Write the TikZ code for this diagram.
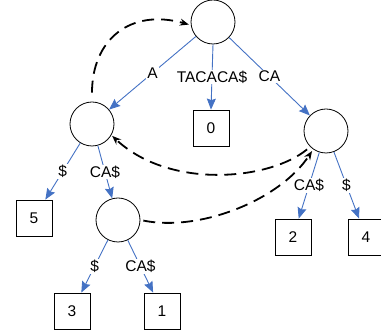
\documentclass[tikz,border=0pt]{standalone}
\usepackage{fontspec}
\setmainfont{Liberation Sans}
\usetikzlibrary{arrows.meta}
\definecolor{eblue}{RGB}{68,114,196}
\begin{document}
\begin{tikzpicture}[x=1pt,y=-1pt,
  font=\fontsize{15.5}{17}\selectfont,
  circ/.style={draw,circle,line width=0.8pt,minimum size=44pt,inner sep=0pt},
  leaf/.style={draw,rectangle,line width=0.8pt,minimum size=36pt,inner sep=0pt},
  edge/.style={draw=eblue,line width=0.9pt,-{Stealth[length=11pt,width=9pt,inset=1.5pt]}},
  lbl/.style={fill=white,inner sep=1pt},
  link/.style={draw=black,line width=1.8pt,dash pattern=on 12pt off 7pt,-{Stealth[length=9pt,width=7pt]}}]
\useasboundingbox (0,0) rectangle (381,336);
\node[circ] (root) at (213,22) {};
\node[circ] (nA) at (92,124) {};
\node[circ] (nCA) at (326,131) {};
\node[circ] (nACA) at (118,220) {};
\node[leaf] (b0) at (211,128) {0};
\node[leaf] (b5) at (34,218) {5};
\node[leaf] (b2) at (293,237) {2};
\node[leaf] (b4) at (366,237) {4};
\node[leaf] (b3) at (72,311) {3};
\node[leaf] (b1) at (162,311) {1};
\draw[edge] (root) -- node[lbl]{A} (nA);
\draw[edge] (root.south) -- node[lbl]{TACACA\$} (b0.north);
\draw[edge] (root) -- node[lbl]{CA} (nCA);
\draw[edge] (nA) -- node[lbl]{\$} (b5);
\draw[edge] (nA) -- node[lbl]{CA\$} (nACA);
\draw[edge] (nCA) -- node[lbl]{CA\$} (b2);
\draw[edge] (nCA) -- node[lbl]{\$} (b4);
\draw[edge] (nACA) -- node[lbl]{\$} (b3);
\draw[edge] (nACA) -- node[lbl]{CA\$} (b1);
\draw[link,shorten <=9pt,shorten >=2pt] (nA.north) .. controls (92,40) and (130,8) .. (root.188);
\draw[link,shorten <=4pt,shorten >=1pt] (nCA.225) .. controls (270,180) and (170,190) .. (nA.-30);
\draw[link,shorten <=3pt,shorten >=2pt] (nACA.east) .. controls (200,232) and (280,200) .. (nCA.235);
\end{tikzpicture}
\end{document}
